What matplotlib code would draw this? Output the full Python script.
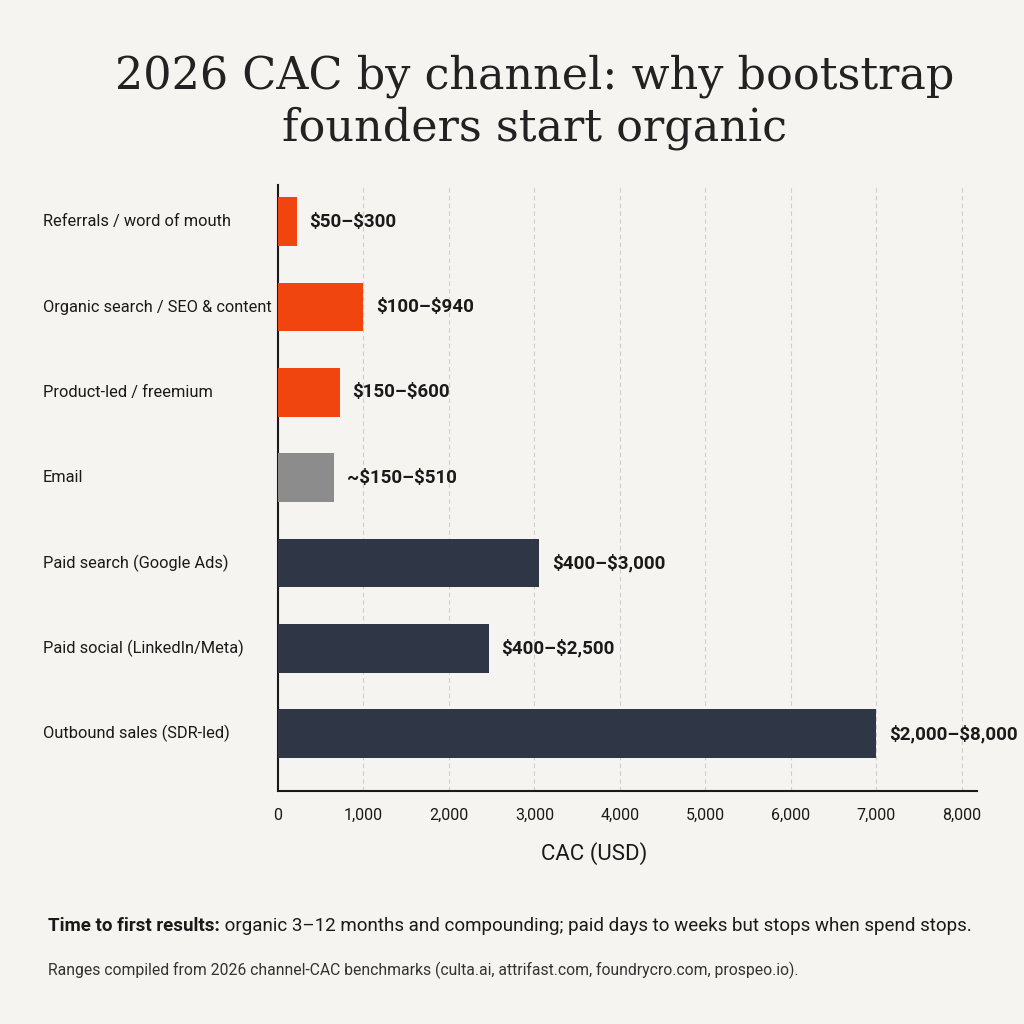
import matplotlib.pyplot as plt
import matplotlib.transforms as mtransforms
from matplotlib.ticker import FuncFormatter

channels = [
    "Referrals / word of mouth",
    "Organic search / SEO & content",
    "Product-led / freemium",
    "Email",
    "Paid search (Google Ads)",
    "Paid social (LinkedIn/Meta)",
    "Outbound sales (SDR-led)",
]
cac = [220, 1000, 720, 660, 3060, 2470, 7000]
ranges = [r"\$50–\$300", r"\$100–\$940", r"\$150–\$600", r"~\$150–\$510",
          r"\$400–\$3,000", r"\$400–\$2,500", r"\$2,000–\$8,000"]
groups = ["organic", "organic", "organic", "email", "paid", "paid", "paid"]
xticks = [0, 1000, 2000, 3000, 4000, 5000, 6000, 7000, 8000]

colors = {"organic": "#F0450F", "email": "#8C8C8C", "paid": "#2F3747"}
bg = "#F5F4F0"
sans = ["Roboto", "DejaVu Sans"]

fig = plt.figure(figsize=(10.24, 10.24), dpi=100, facecolor=bg)
ax = fig.add_axes([278 / 1024, 1 - 791 / 1024, (977 - 278) / 1024, (791 - 185) / 1024])
ax.set_facecolor(bg)

ypos = list(range(len(channels)))
ax.barh(ypos, cac, height=0.57, color=[colors[g] for g in groups], zorder=3)
ax.set_ylim(6.67, -0.43)
ax.set_xlim(0, 8180)

for y, v, r in zip(ypos, cac, ranges):
    ax.annotate(r, xy=(v, y), xytext=(9, 0), textcoords="offset points",
                va="center", ha="left", fontsize=13.5, fontweight="bold",
                family=sans, color="#1a1a1a")

# left-aligned category labels
trans = mtransforms.blended_transform_factory(fig.transFigure, ax.transData)
for y, name in zip(ypos, channels):
    ax.text(43 / 1024, y, name, transform=trans, ha="left", va="center",
            fontsize=11.8, family=sans, color="#1a1a1a")
ax.set_yticks([])

ax.set_xticks(xticks)
ax.xaxis.set_major_formatter(FuncFormatter(lambda v, p: f"{int(v):,}"))
ax.tick_params(axis="x", length=0, pad=12, labelsize=11.5, labelcolor="#1a1a1a")
for lab in ax.get_xticklabels():
    lab.set_family(sans)
ax.set_xlabel("CAC (USD)", fontsize=16, family=sans, color="#1a1a1a")
ax.xaxis.set_label_coords((594 - 278) / (977 - 278), -0.085)

for x in xticks[1:]:
    ax.axvline(x, color="#cfcfcf", lw=0.8, ls=(0, (4, 3)), zorder=1)

for s in ["top", "right"]:
    ax.spines[s].set_visible(False)
for s in ["left", "bottom"]:
    ax.spines[s].set_linewidth(1.5)
    ax.spines[s].set_color("#1a1a1a")

fig.text(535 / 1024, 1 - 102 / 1024, "2026 CAC by channel: why bootstrap\nfounders start organic",
         ha="center", va="center", fontsize=32, family="DejaVu Serif",
         color="#222222", linespacing=1.25)

t1 = fig.text(48 / 1024, 1 - 926 / 1024, "Time to first results:", fontsize=13.5,
              fontweight="bold", family=sans, color="#1a1a1a", va="center")
ax.annotate(" organic 3–12 months and compounding; paid days to weeks but stops when spend stops.",
            xy=(1, 0.5), xycoords=t1, va="center", ha="left", fontsize=13.5,
            family=sans, color="#1a1a1a", annotation_clip=False)
fig.text(48 / 1024, 1 - 970 / 1024,
         "Ranges compiled from 2026 channel-CAC benchmarks (culta.ai, attrifast.com, foundrycro.com, prospeo.io).",
         fontsize=11.3, family=sans, color="#333333", va="center")

fig.savefig("out.png", dpi=100, facecolor=bg)
